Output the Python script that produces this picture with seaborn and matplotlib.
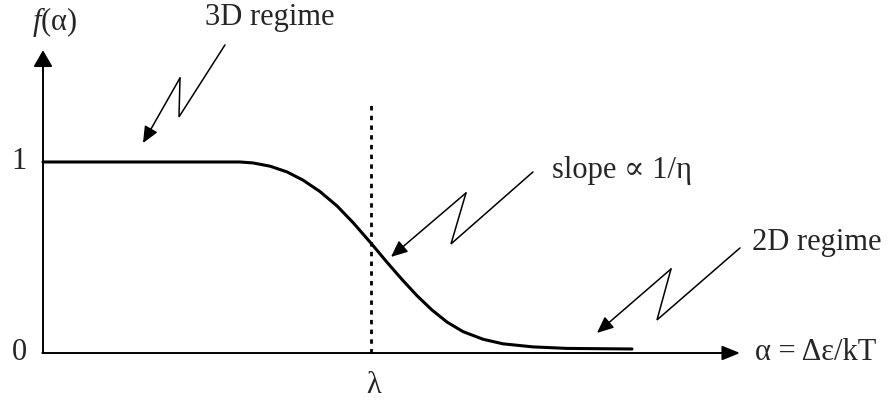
import matplotlib
matplotlib.use("Agg")
import matplotlib.pyplot as plt
import seaborn as sns
import pandas as pd

sns.set_theme(style="white")
plt.rcParams["font.family"] = ["Liberation Serif", "DejaVu Serif"]
plt.rcParams["mathtext.fontset"] = "custom"
plt.rcParams["mathtext.rm"] = "Liberation Serif"
plt.rcParams["mathtext.it"] = "Liberation Serif:italic"

# Schematic crossover curve f(alpha): 3D plateau -> 2D tail
alpha = [0.00, 1.97, 2.10, 2.27, 2.44, 2.60, 2.77, 2.94, 3.10, 3.28, 3.44, 3.59,
         3.74, 3.89, 4.04, 4.20, 4.40, 4.60, 4.90, 5.24, 5.89]
f_alpha = [1.000, 1.000, 0.995, 0.978, 0.948, 0.905, 0.845, 0.770, 0.683, 0.575, 0.475, 0.385,
           0.300, 0.225, 0.162, 0.112, 0.072, 0.048, 0.032, 0.024, 0.021]
lam = 3.28
y_ticks = [0, 1]
y_tick_labels = ["0", "1"]

df = pd.DataFrame({"alpha": alpha, "f": f_alpha})

fig = plt.figure(figsize=(8.92, 4.04), dpi=100)
ax = fig.add_axes([0, 0, 1, 1])
ax.set_xlim(-0.43, 8.49)
ax.set_ylim(-0.267, 1.848)
ax.axis("off")

FS = 22
ink = "black"

# axes with arrowheads
ax.annotate("", xy=(0, 1.585), xytext=(0, 0),
            arrowprops=dict(arrowstyle="-|>,head_length=0.5,head_width=0.29",
                            mutation_scale=20, lw=1.4, color=ink,
                            shrinkA=0, shrinkB=0))
ax.annotate("", xy=(6.97, 0), xytext=(-0.007, 0),
            arrowprops=dict(arrowstyle="-|>,head_length=0.54,head_width=0.22",
                            mutation_scale=20, lw=1.4, color=ink,
                            shrinkA=0, shrinkB=0))

# the curve
sns.lineplot(data=df, x="alpha", y="f", ax=ax, color=ink, lw=2.2,
             sort=False, estimator=None, solid_joinstyle="round")
ax.set_xlabel("")
ax.set_ylabel("")

# dotted marker at lambda
ax.plot([lam, lam], [0, 1.316], color=ink, lw=2.0, linestyle=(0, (1.6, 1.9)))

# zig-zag pointers: start -> lower kink -> upper kink -> arrow tip
def bolt(pts):
    xs = [p[0] for p in pts[:-1]]
    ys = [p[1] for p in pts[:-1]]
    ax.plot(xs, ys, color=ink, lw=1.1, solid_joinstyle="miter")
    ax.annotate("", xy=pts[-1], xytext=pts[-2],
                arrowprops=dict(arrowstyle="-|>,head_length=0.5,head_width=0.22",
                                mutation_scale=20, lw=1.1, color=ink,
                                shrinkA=0, shrinkB=0))

bolt([(1.82, 1.613), (1.36, 1.236), (1.37, 1.440), (1.00, 1.099)])
bolt([(4.90, 0.948), (4.08, 0.571), (4.23, 0.838), (3.48, 0.503)])
bolt([(6.97, 0.550), (6.14, 0.173), (6.28, 0.440), (5.54, 0.105)])

# labels
for yv, lab in zip(y_ticks, y_tick_labels):
    ax.text(-0.24, yv, lab, fontsize=FS, ha="center", va="center")
ax.text(lam + 0.03, -0.168, "λ", fontsize=FS, ha="center", va="center")
ax.text(0.12, 1.733, "$\\mathit{f}$(α)", fontsize=FS, ha="center", va="center")
ax.text(2.27, 1.754, "3D regime", fontsize=FS, ha="center", va="center")
ax.text(5.09, 0.958, "slope ∝ 1/η", fontsize=FS, ha="left", va="center")
ax.text(7.09, 0.58, "2D regime", fontsize=FS, ha="left", va="center")
ax.text(7.12, 0.005, "α = Δε/kT", fontsize=FS, ha="left", va="center")

fig.savefig("out.png", dpi=100, facecolor="white")
